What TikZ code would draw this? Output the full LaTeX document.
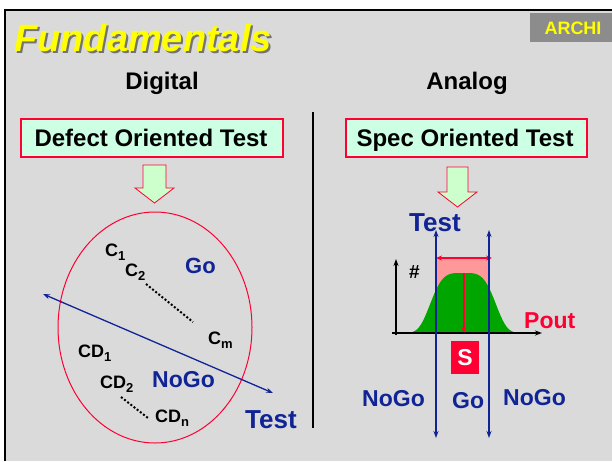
\documentclass[tikz,border=0pt]{standalone}
\usepackage{fontspec}
\setmainfont{Liberation Sans}
\usetikzlibrary{arrows.meta,shapes.geometric}
\definecolor{bgray}{RGB}{218,218,218}
\definecolor{navy}{RGB}{16,36,150}
\definecolor{redc}{RGB}{255,0,51}
\definecolor{mint}{RGB}{204,255,228}
\definecolor{lgreen}{RGB}{204,255,204}
\definecolor{bell}{RGB}{0,165,0}
\definecolor{pinkc}{RGB}{255,153,153}
\definecolor{archi}{RGB}{140,140,140}
\definecolor{yel}{RGB}{255,255,0}
\newcommand\mysub[1]{\raisebox{-4pt}{\fontsize{13}{14}\selectfont\bfseries #1}}
\begin{document}
\begin{tikzpicture}[x=1pt,y=-1pt,
  bf/.style={font=\bfseries\fontsize{#1}{#1}\selectfont},
  txt/.style={inner sep=0, anchor=base west},
  ctr/.style={inner sep=0, anchor=base},
  boxc/.style={draw=redc, line width=1.6pt, fill=mint, inner sep=0, minimum height=38pt},
  garrow/.style={fill=lgreen, draw=redc, line width=0.8pt},
  bluearr/.style={navy, line width=1.3pt, {Stealth[length=7pt,width=5pt]}-{Stealth[length=7pt,width=5pt]}},
  dots/.style={line width=2pt, dash pattern=on 2pt off 2pt}
]
\useasboundingbox (0,0) rectangle (612,461);
\fill[white] (0,0) rectangle (612,461);
\fill[bgray] (5,10) rectangle (612,461);
\draw[line width=2.5pt] (5,461) -- (5,10) -- (612,10);

% header
\node[fill=archi, minimum width=82pt, minimum height=29pt, inner sep=0] (archibox) at (571,27.5) {};
\node[bf=18, text=yel, ctr] (archi) at (573,34) {ARCHI};
\node[font=\bfseries\itshape\fontsize{38}{40}\selectfont, text=black!55, txt] (fshadow) at (16,53) {Fundamentals};
\node[font=\bfseries\itshape\fontsize{38}{40}\selectfont, text=yel, txt] (fund) at (14,51) {Fundamentals};

\node[bf=24, ctr] (digital) at (162,89) {Digital};
\node[bf=24, ctr] (analog) at (467,89) {Analog};

% divider
\coordinate (dtop) at (313,112);
\coordinate (dbot) at (313,428);
\draw[line width=1.5pt] (dtop) -- (dbot);

% boxes
\node[boxc, minimum width=262pt] (dbox) at (152,138) {};
\node[bf=24, ctr] (dtext) at (151,146) {Defect Oriented Test};
\node[boxc, minimum width=241pt] (sbox) at (466.5,138) {};
\node[bf=24, ctr] (stext) at (465,146) {Spec Oriented Test};

% green arrows
\filldraw[garrow] (143,165) -- (166,165) -- (166,188) -- (174,188) -- (154.5,203) -- (135,188) -- (143,188) -- cycle;
\filldraw[garrow] (447,167) -- (468,167) -- (468,192) -- (477,192) -- (457.5,207) -- (438,192) -- (447,192) -- cycle;

% left: ellipse
\node[draw=redc, line width=1pt, ellipse, minimum width=194pt, minimum height=231pt, inner sep=0] (set) at (155,327.5) {};

\node[bf=18, txt] (c1) at (105,256) {C\mysub{1}};
\node[bf=18, txt] (c2) at (125,276) {C\mysub{2}};
\node[bf=18, txt] (cm) at (208,344) {C\mysub{m}};
\node[bf=18, txt] (cd1) at (78,357) {CD\mysub{1}};
\node[bf=18, txt] (cd2) at (100,388) {CD\mysub{2}};
\node[bf=18, txt] (cdn) at (155,422) {CD\mysub{n}};
\coordinate (d1a) at (146,284); \coordinate (d1b) at (193,322);
\draw[dots] (d1a) -- (d1b);
\coordinate (d2a) at (121,397); \coordinate (d2b) at (148,418);
\draw[dots] (d2a) -- (d2b);

\node[bf=22, txt, text=navy] (go1) at (185,273) {Go};
\node[bf=23, txt, text=navy] (nogo1) at (152,387) {NoGo};

\coordinate (tA) at (43,294); \coordinate (tB) at (273,393);
\draw[bluearr] (tA) -- (tB);
\node[bf=26, txt, text=navy] (test1) at (245,428) {Test};

% right: distribution
\node[bf=26, txt, text=navy] (test2) at (409,231) {Test};
\fill[pinkc] (436,258) rectangle (489,300);
\fill[bell] plot[domain=-60:57, samples=120, smooth] ({463+\x},{333-60*exp(-((\x*\x/1267.36)^2))}) -- cycle;
\coordinate (ya) at (396,335); \coordinate (yb) at (396,259);
\draw[line width=1.6pt, -{Stealth[length=7pt,width=5pt]}] (ya) -- (yb);
\coordinate (xa) at (392,333); \coordinate (xb) at (542,333);
\draw[line width=1.6pt, -{Stealth[length=7pt,width=5pt]}] (xa) -- (xb);
\node[bf=19, txt] (hash) at (409,278) {\#};

\coordinate (wa) at (436,258); \coordinate (wb) at (492,258);
\draw[redc, line width=1.5pt, {Stealth[length=6pt,width=5pt]}-{Stealth[length=6pt,width=5pt]}] (wa) -- (wb);
\coordinate (pa) at (464,273); \coordinate (pb) at (464,333);
\draw[redc, line width=1.5pt, -{Stealth[length=6pt,width=5pt]}] (pa) -- (pb);

\coordinate (l1a) at (436,230); \coordinate (l1b) at (436,438);
\coordinate (l2a) at (489,230); \coordinate (l2b) at (489,438);
\draw[bluearr] (l1a) -- (l1b);
\draw[bluearr] (l2a) -- (l2b);

\node[fill=redc, minimum width=28pt, minimum height=33pt, inner sep=0, text=white, bf=23] (s) at (465,357.5) {S};
\node[bf=23, txt, text=redc] (pout) at (524,328) {Pout};

\node[bf=23, txt, text=navy] (nogo2) at (362,406) {NoGo};
\node[bf=23, txt, text=navy] (go2) at (452,408) {Go};
\node[bf=23, txt, text=navy] (nogo3) at (503,405) {NoGo};
\end{tikzpicture}
\end{document}
